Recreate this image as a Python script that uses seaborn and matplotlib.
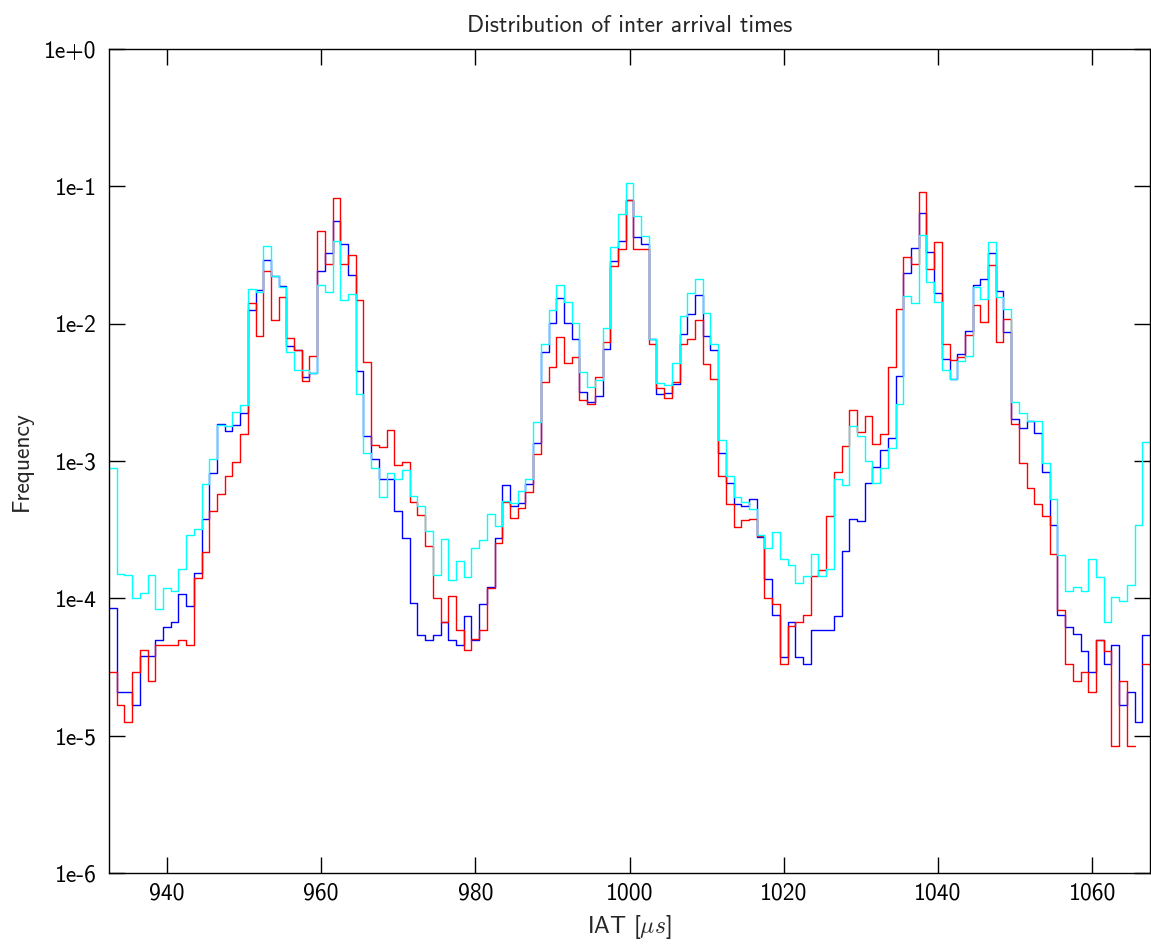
#!/usr/bin/env python3

import matplotlib
matplotlib.use("Agg")
import matplotlib.pyplot as plt
import numpy as np
import pandas as pd
import seaborn as sns

# Bin centres of the IAT histogram (1 us bins)
iat_us = list(range(933, 1068))

blue_freq = [
    # 933-939
    8.5e-5, 2.07e-5, 2.07e-5, 1.68e-5, 3.8e-5, 3.8e-5, 4.99e-5,
    # 940-949
    6.22e-5, 6.67e-5, 1.08e-4, 8.8e-5, 1.54e-4, 3.77e-4, 8.2e-4, 1.87e-3, 1.65e-3, 1.83e-3,
    # 950-959
    2.25e-3, 1.25e-2, 1.76e-2, 2.92e-2, 2.22e-2, 1.87e-2, 6.9e-3, 6.4e-3, 4.08e-3, 4.4e-3,
    # 960-969
    2.41e-2, 3.29e-2, 5.56e-2, 3.83e-2, 2.28e-2, 4.55e-3, 1.52e-3, 1.04e-3, 7.35e-4, 7.35e-4,
    # 970-979
    4.3e-4, 2.76e-4, 9.2e-5, 5.42e-5, 5.0e-5, 5.42e-5, 6.7e-5, 5.0e-5, 4.6e-5, 7.4e-5,
    # 980-989
    5.0e-5, 9.1e-5, 1.2e-4, 2.73e-4, 6.73e-4, 4.73e-4, 4.94e-4, 6.78e-4, 1.35e-3, 6.23e-3,
    # 990-999
    1.01e-2, 1.53e-2, 1.01e-2, 7.78e-3, 3.17e-3, 2.69e-3, 2.96e-3, 6.52e-3, 2.85e-2, 4.0e-2,
    # 1000-1009
    8.0e-2, 4.31e-2, 3.8e-2, 7.78e-3, 3.07e-3, 3.15e-3, 3.64e-3, 8.4e-3, 1.18e-2, 1.61e-2,
    # 1010-1019
    8.13e-3, 6.4e-3, 1.14e-3, 6.89e-4, 4.87e-4, 4.73e-4, 5.32e-4, 2.8e-4, 1.38e-4, 7.5e-5,
    # 1020-1029
    3.76e-5, 6.67e-5, 3.76e-5, 3.35e-5, 5.87e-5, 5.87e-5, 5.87e-5, 7.43e-5, 2.21e-4, 3.78e-4,
    # 1030-1039
    3.67e-4, 6.89e-4, 9.0e-4, 1.2e-3, 1.46e-3, 4.19e-3, 2.35e-2, 3.56e-2, 6.43e-2, 3.31e-2,
    # 1040-1049
    1.66e-2, 5.56e-3, 3.98e-3, 6.04e-3, 8.83e-3, 1.91e-2, 2.12e-2, 3.29e-2, 1.73e-2, 8.67e-3,
    # 1050-1059
    2.02e-3, 1.73e-3, 1.94e-3, 1.6e-3, 8.3e-4, 3.4e-4, 7.52e-5, 6.22e-5, 5.5e-5, 4.13e-5,
    # 1060-1067
    2.92e-5, 5.0e-5, 3.35e-5, 4.6e-5, 1.68e-5, 2.07e-5, 1.26e-5, 5.42e-5,
]

red_freq = [
    # 933-939
    2.92e-5, 1.67e-5, 1.26e-5, 2.92e-5, 4.2e-5, 2.51e-5, 4.6e-5,
    # 940-949
    4.6e-5, 4.6e-5, 4.99e-5, 4.6e-5, 1.4e-4, 2.17e-4, 4.34e-4, 5.77e-4, 7.8e-4, 9.9e-4,
    # 950-959
    1.58e-3, 1.42e-2, 8.2e-3, 2.41e-2, 1.07e-2, 1.57e-2, 7.8e-3, 6.4e-3, 3.83e-3, 5.8e-3,
    # 960-969
    4.69e-2, 2.74e-2, 8.17e-2, 2.7e-2, 3.16e-2, 1.48e-2, 5.23e-3, 1.3e-3, 1.26e-3, 1.68e-3,
    # 970-979
    9.4e-4, 9.9e-4, 5.0e-4, 4.03e-4, 2.4e-4, 1.0e-4, 6.7e-5, 1.04e-4, 5.84e-5, 4.18e-5,
    # 980-989
    5.05e-5, 5.9e-5, 1.18e-4, 2.55e-4, 5.03e-4, 3.86e-4, 4.52e-4, 5.9e-4, 1.12e-3, 3.73e-3,
    # 990-999
    4.84e-3, 7.98e-3, 5.13e-3, 5.74e-3, 2.76e-3, 2.59e-3, 4.08e-3, 7.4e-3, 2.62e-2, 3.48e-2,
    # 1000-1009
    8.0e-2, 3.52e-2, 3.48e-2, 7.08e-3, 3.4e-3, 2.86e-3, 3.73e-3, 7.16e-3, 7.73e-3, 1.07e-2,
    # 1010-1019
    5.09e-3, 3.93e-3, 7.73e-4, 4.87e-4, 3.3e-4, 3.72e-4, 3.79e-4, 2.85e-4, 1.0e-4, 9.1e-5,
    # 1020-1029
    3.35e-5, 6.25e-5, 6.75e-5, 7.5e-5, 1.46e-4, 1.61e-4, 3.96e-4, 8.3e-4, 1.29e-3, 2.34e-3,
    # 1030-1039
    1.62e-3, 2.13e-3, 1.32e-3, 1.57e-3, 4.84e-3, 1.27e-2, 3.05e-2, 2.74e-2, 9.16e-2, 2.5e-2,
    # 1040-1049
    3.93e-2, 7.16e-3, 5.4e-3, 5.74e-3, 8.28e-3, 1.37e-2, 1.03e-2, 2.67e-2, 7.3e-3, 1.09e-2,
    # 1050-1059
    1.87e-3, 9.64e-4, 6.39e-4, 4.87e-4, 3.96e-4, 2.1e-4, 8.27e-5, 3.31e-5, 2.5e-5, 2.92e-5,
    # 1060-1067 (no counts in 1066)
    2.09e-5, 5.0e-5, 4.13e-5, 8.4e-6, 2.5e-5, 8.4e-6, np.nan, 3.35e-5,
]

cyan_freq = [
    # 933-939
    8.9e-4, 1.51e-4, 1.47e-4, 1.0e-4, 1.09e-4, 1.47e-4, 8.3e-5,
    # 940-949
    1.18e-4, 1.14e-4, 1.64e-4, 2.88e-4, 3.21e-4, 6.84e-4, 1.03e-3, 1.84e-3, 1.79e-3, 2.28e-3,
    # 950-959
    2.56e-3, 1.79e-2, 1.69e-2, 3.68e-2, 2.21e-2, 1.85e-2, 6.2e-3, 4.6e-3, 4.6e-3, 4.4e-3,
    # 960-969
    1.91e-2, 1.71e-2, 4.0e-2, 1.48e-2, 1.65e-2, 3.06e-3, 1.14e-3, 8.9e-4, 5.47e-4, 8.2e-4,
    # 970-979
    7.4e-4, 8.6e-4, 5.6e-4, 4.73e-4, 3.08e-4, 1.47e-4, 2.71e-4, 1.35e-4, 1.88e-4, 1.44e-4,
    # 980-989
    2.33e-4, 2.68e-4, 4.1e-4, 3.38e-4, 5.13e-4, 4.97e-4, 6.0e-4, 7.35e-4, 1.92e-3, 7.1e-3,
    # 990-999
    1.25e-2, 1.9e-2, 1.44e-2, 1.01e-2, 4.46e-3, 3.48e-3, 3.91e-3, 9.3e-3, 3.61e-2, 6.27e-2,
    # 1000-1009
    1.05e-1, 6.07e-2, 4.37e-2, 7.78e-3, 3.69e-3, 3.55e-3, 5.19e-3, 1.14e-2, 1.68e-2, 2.12e-2,
    # 1010-1019
    1.19e-2, 7.08e-3, 1.43e-3, 7.73e-4, 5.45e-4, 5.03e-4, 4.5e-4, 2.91e-4, 2.33e-4, 3.04e-4,
    # 1020-1029
    1.95e-4, 1.76e-4, 1.3e-4, 1.46e-4, 2.1e-4, 1.46e-4, 1.63e-4, 7.43e-4, 6.67e-4, 1.8e-3,
    # 1030-1039
    1.52e-3, 1.0e-3, 6.97e-4, 8.87e-4, 1.24e-3, 2.61e-3, 1.58e-2, 1.42e-2, 4.42e-2, 2.01e-2,
    # 1040-1049
    1.44e-2, 4.6e-3, 3.98e-3, 5.32e-3, 5.82e-3, 1.85e-2, 1.5e-2, 3.93e-2, 1.56e-2, 1.27e-2,
    # 1050-1059
    2.69e-3, 2.22e-3, 1.97e-3, 1.97e-3, 9.75e-4, 5.28e-4, 2.08e-4, 1.14e-4, 1.21e-4, 1.14e-4,
    # 1060-1067
    1.95e-4, 1.42e-4, 6.7e-5, 1.03e-4, 9.6e-5, 1.25e-4, 3.4e-4, 1.38e-3,
]

x_ticks = [940, 960, 980, 1000, 1020, 1040, 1060]
y_ticks = [1e0, 1e-1, 1e-2, 1e-3, 1e-4, 1e-5, 1e-6]
y_tick_labels = ["1e+0", "1e-1", "1e-2", "1e-3", "1e-4", "1e-5", "1e-6"]


def draw_series(ax, centers, freq, color):
    """Step histogram, broken where a bin has no value"""
    df = pd.DataFrame({"iat": centers, "freq": freq})
    df["edge_lo"] = df["iat"] - 0.5
    ok = df["freq"].notna().to_numpy()
    run_id = np.cumsum(np.r_[True, ok[1:] != ok[:-1]])
    for _, run in df[ok].groupby(run_id[ok]):
        edges = run["edge_lo"].tolist() + [run["edge_lo"].iloc[-1] + 1.0]
        sns.histplot(data=run, x="iat", weights="freq", bins=edges,
                     element="step", fill=False, color=color,
                     linewidth=1.0, ax=ax)


sns.set_theme(style="ticks")
plt.rcParams["font.family"] = ["cmss10", "DejaVu Sans"]
plt.rcParams["mathtext.fontset"] = "cm"
plt.rcParams["axes.unicode_minus"] = False

fig, ax = plt.subplots(figsize=(11.51, 9.44), dpi=100)
fig.subplots_adjust(left=109 / 1151, right=1150 / 1151,
                    top=1 - 49 / 944, bottom=1 - 873 / 944)

draw_series(ax, iat_us, blue_freq, "#0000ff")
draw_series(ax, iat_us, red_freq, "#ff0000")
draw_series(ax, iat_us, cyan_freq, "#00ffff")

ax.set_yscale("log")
ax.set_xlim(932.5, 1067.5)
ax.set_ylim(1e-6, 1e0)
ax.set_xticks(x_ticks)
ax.set_xticklabels([str(t) for t in x_ticks])
ax.set_yticks(y_ticks)
ax.set_yticklabels(y_tick_labels)
ax.yaxis.set_minor_locator(matplotlib.ticker.NullLocator())
ax.xaxis.set_minor_locator(matplotlib.ticker.NullLocator())

ax.tick_params(axis="both", which="major", direction="in", length=11.5, width=1.0,
               top=True, right=True, labelsize=17, colors="black")
ax.tick_params(axis="x", pad=7)
ax.tick_params(axis="y", pad=9)
for side in ["left", "right", "top", "bottom"]:
    ax.spines[side].set_visible(True)
    ax.spines[side].set_color("black")
    ax.spines[side].set_linewidth(1.0)

ax.set_title("Distribution of inter arrival times", fontsize=17, pad=12)
ax.set_xlabel("IAT [$\\mu s$]", fontsize=17, labelpad=6)
ax.set_ylabel("Frequency", fontsize=17, labelpad=8)

plt.savefig("out.png", dpi=100)
